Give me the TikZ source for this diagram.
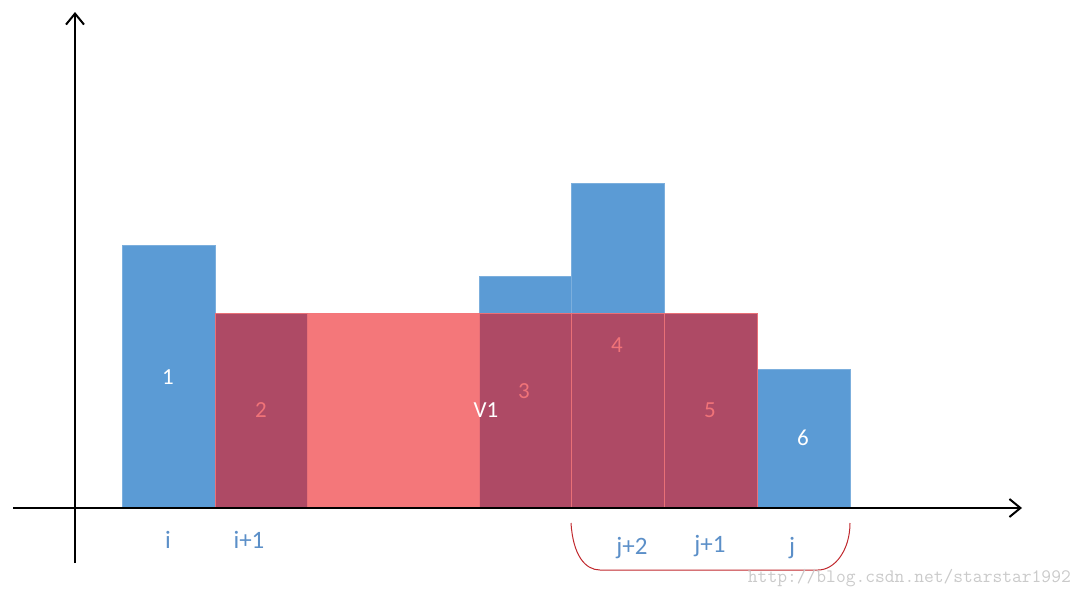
\documentclass[tikz,border=0pt]{standalone}
\usepackage{fontspec}
\setmainfont{Carlito}
\usetikzlibrary{arrows.meta}
\definecolor{barblue}{HTML}{5B9BD5}
\definecolor{bardark}{HTML}{AE4A65}
\definecolor{barlight}{HTML}{F4777A}
\definecolor{labpink}{HTML}{F07378}
\definecolor{labblue}{HTML}{5B8FC8}
\definecolor{brackred}{HTML}{C0282D}
\definecolor{wmgray}{HTML}{CACACA}
\tikzset{
  axis/.style={line width=2pt, black, -{Straight Barb[length=11pt,width=18pt,line width=2pt]}},
  bluebar/.style={fill=barblue, draw=barblue!80!white, line width=0.6pt},
  darkbar/.style={fill=bardark, draw=barlight!85!bardark, line width=0.6pt},
  lightbar/.style={fill=barlight},
  inlab/.style={font=\fontsize{23}{25}\selectfont, inner sep=0pt},
  whitelab/.style={inlab, text=white},
  pinklab/.style={inlab, text=labpink},
  bottomlab/.style={font=\fontsize{25}{27}\selectfont, text=labblue, inner sep=0pt},
  bracket/.style={brackred, line width=1pt},
}
\begin{document}
\begin{tikzpicture}[x=1pt,y=-1pt]
\useasboundingbox (0,0) rectangle (1081,597);
% bars
\fill[bluebar] (122,245) rectangle (215,508);
\fill[lightbar] (307,313) rectangle (479,508);
\filldraw[bluebar] (479,276) rectangle (571,313);
\filldraw[bluebar] (571,183) rectangle (664,313);
\filldraw[bluebar] (757,369) rectangle (850,508);
\filldraw[darkbar] (215,313) rectangle (307,508);
\filldraw[darkbar] (479,313) rectangle (571,508);
\filldraw[darkbar] (571,313) rectangle (664,508);
\filldraw[darkbar] (664,313) rectangle (757,508);
% axes
\coordinate (yb) at (75,563);
\coordinate (yt) at (75,12);
\coordinate (xl) at (13,508);
\coordinate (xr) at (1022,508);
\draw[axis] (yb) -- (yt);
\draw[axis] (xl) -- (xr);
% labels inside bars
\node[whitelab] (l1) at (168,377) {1};
\node[pinklab] (l2) at (261,410) {2};
\node[whitelab] (lv) at (486,410) {V1};
\node[pinklab] (l3) at (524,391) {3};
\node[pinklab] (l4) at (617,345) {4};
\node[pinklab] (l5) at (710,410) {5};
\node[whitelab] (l6) at (803,438) {6};
% bottom labels
\node[bottomlab] (bi) at (168,540) {i};
\node[bottomlab] (bi1) at (249,540) {i+1};
\node[bottomlab] (bj2) at (632,548) {j+2};
\node[bottomlab] (bj1) at (710,546) {j+1};
\node[bottomlab] (bj) at (792,548) {j};
% bracket
\coordinate (ba) at (571,523);
\coordinate (bb) at (850,523);
\draw[bracket] (ba) .. controls (573,555) and (585,570) .. (600,570) -- (818,570) .. controls (835,570) and (850,550) .. (bb);
% watermark
\node[text=wmgray, font=\ttfamily\fontsize{19}{21}\selectfont, inner sep=0pt, anchor=east] (wm) at (1071,578) {http://blog.csdn.net/starstar1992};
\end{tikzpicture}
\end{document}
